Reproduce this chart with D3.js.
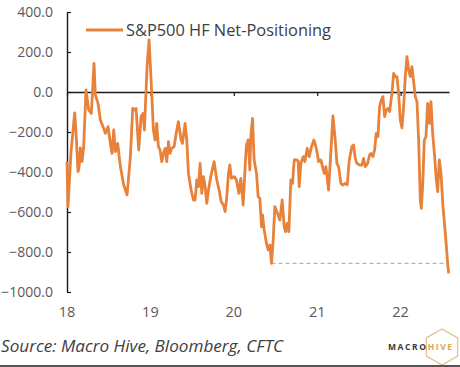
<!DOCTYPE html>
<html><head><meta charset="utf-8">
<script src="https://cdn.jsdelivr.net/npm/d3@7"></script>
<style>html,body{margin:0;padding:0;background:#fff;}svg{display:block;}</style>
</head><body>
<script>
// decimal year (since 2000) of each weekly observation
const dates = [18.000,18.012,18.048,18.092,18.108,18.132,18.144,18.160,18.180,18.200,18.228,18.260,18.292,18.324,18.340,18.372,18.400,18.440,18.460,18.492,18.520,18.540,18.560,18.580,18.608,18.640,18.680,18.720,18.760,18.788,18.812,18.828,18.860,18.888,18.912,18.928,18.960,18.984,
19.016,19.036,19.056,19.076,19.096,19.116,19.136,19.156,19.176,19.196,19.216,19.236,19.256,19.284,19.316,19.336,19.368,19.384,19.416,19.436,19.456,19.488,19.516,19.536,19.556,19.576,19.596,19.616,19.636,19.656,19.676,19.696,19.724,19.764,19.796,19.824,19.848,19.876,19.896,19.916,19.936,19.952,19.972,
20.004,20.032,20.060,20.084,20.112,20.140,20.152,20.172,20.192,20.204,20.224,20.244,20.272,20.292,20.312,20.332,20.344,20.364,20.392,20.412,20.432,20.452,20.472,20.492,20.524,20.552,20.580,20.604,20.620,20.640,20.660,20.684,20.704,20.724,20.752,20.772,20.784,20.804,20.832,20.852,20.880,20.904,20.932,20.960,20.984,
21.004,21.016,21.044,21.068,21.084,21.104,21.136,21.164,21.188,21.216,21.236,21.256,21.284,21.304,21.336,21.360,21.384,21.416,21.436,21.456,21.476,21.508,21.536,21.556,21.576,21.604,21.628,21.644,21.668,21.688,21.708,21.728,21.748,21.768,21.788,21.808,21.828,21.848,21.868,21.896,21.916,21.936,21.956,21.976,21.996,
22.016,22.036,22.056,22.076,22.096,22.116,22.136,22.156,22.176,22.196,22.216,22.236,22.248,22.264,22.284,22.304,22.324,22.344,22.364,22.384,22.408,22.428,22.444,22.464,22.484,22.508,22.536,22.564,22.576];
const netPositioning = [-348,-573,-300,-105,-200,-398,-380,-280,-348,-273,10,-90,-107,143,-15,-57,-140,-182,-207,-173,-257,-307,-190,-298,-257,-373,-465,-515,-323,-82,-90,-82,-290,-123,-107,-190,127,260,
-7,-190,-240,-157,-273,-290,-348,-307,-282,-348,-248,-307,-282,-273,-190,-148,-240,-257,-157,-240,-407,-490,-540,-540,-440,-473,-357,-507,-423,-473,-557,-490,-423,-348,-440,-490,-548,-565,-598,-523,-407,-365,-432,
-423,-440,-507,-432,-565,-340,-265,-240,-390,-223,-132,-340,-407,-523,-532,-673,-615,-690,-757,-790,-765,-857,-740,-573,-607,-640,-540,-673,-698,-657,-698,-440,-457,-340,-340,-345,-473,-357,-323,-348,-282,-323,-273,-240,-273,
-315,-348,-340,-382,-407,-373,-490,-298,-120,-240,-357,-373,-457,-465,-457,-465,-340,-273,-265,-332,-357,-365,-365,-332,-373,-357,-315,-307,-323,-290,-207,-223,-73,-40,-23,-123,-90,-82,-98,-7,93,77,77,-7,-140,
-180,-73,77,177,110,77,127,52,-23,-48,-240,-540,-582,-473,-240,-223,-57,-157,-48,-207,-323,-440,-498,-340,-407,-573,-707,-857,-907];
const yTicks = [400,200,0,-200,-400,-600,-800,-1000];
const xTicks = [18,19,20,21,22];
const xTickLabels = ["18","19","20","21","22"];
const seriesName = "S&P500 HF Net-Positioning";
const sourceText = "Source: Macro Hive, Bloomberg, CFTC";

const W = 460, H = 367;
const svg = d3.select("body").append("svg").attr("width", W).attr("height", H);
const x = d3.scaleLinear().domain([18, 22.58]).range([67, 449]);
const y = d3.scaleLinear().domain([-1000, 400]).range([292, 12]);
const FONT = "'Open Sans', 'Noto Sans', sans-serif";
const orange = "#E8823A";

// y axis
const yAx = svg.append("g").attr("transform", `translate(${x(18)},0)`)
  .call(d3.axisRight(y).tickValues(yTicks).tickSize(4).tickFormat(d => "").tickSizeOuter(0));
yAx.select(".domain").attr("stroke", "#1a1a1a").attr("stroke-width", 1.4);
yAx.selectAll(".tick line").attr("stroke", "#1a1a1a").attr("stroke-width", 1.2);
svg.append("g").selectAll("text").data(yTicks).join("text")
  .attr("x", 53).attr("y", d => y(d)).attr("dy", "0.35em").attr("text-anchor", "end")
  .attr("font-family", FONT).attr("font-size", 14).attr("fill", "#595959")
  .text(d => d3.format(".1f")(d));

// x axis at zero
const xAx = svg.append("g").attr("transform", `translate(0,${y(0)})`)
  .call(d3.axisBottom(x).tickValues(xTicks).tickSize(4).tickFormat(() => "").tickSizeOuter(0));
xAx.select(".domain").attr("stroke", "#1a1a1a").attr("stroke-width", 1.4);
xAx.selectAll(".tick line").attr("stroke", "#1a1a1a").attr("stroke-width", 1.2);
svg.append("g").selectAll("text").data(xTicks).join("text")
  .attr("x", d => x(d)).attr("y", 317).attr("text-anchor", "middle")
  .attr("font-family", FONT).attr("font-size", 14.5).attr("fill", "#595959")
  .text((d, i) => xTickLabels[i]);

// dashed line at min
const data = dates.map((d, i) => ({t: d, v: netPositioning[i]}));
const minPt = data.reduce((a, b) => (b.v < a.v && b.t < 22 ? b : a));
svg.append("line")
  .attr("x1", x(minPt.t)).attr("x2", x(22.58)).attr("y1", y(minPt.v)).attr("y2", y(minPt.v))
  .attr("stroke", "#8ec6cd").attr("stroke-width", 1.2).attr("stroke-dasharray", "4,3");

// series line
svg.append("path").datum(data)
  .attr("d", d3.line().x(d => x(d.t)).y(d => y(d.v)))
  .attr("fill", "none").attr("stroke", orange).attr("stroke-width", 2.8).attr("stroke-linejoin", "round");

// legend
svg.append("line").attr("x1", 86).attr("x2", 123).attr("y1", 30).attr("y2", 30)
  .attr("stroke", orange).attr("stroke-width", 2.8);
svg.append("text").attr("x", 126).attr("y", 35.5).attr("font-family", FONT).attr("font-size", 15.5)
  .attr("fill", "#404040").attr("textLength", 205).attr("lengthAdjust", "spacingAndGlyphs").text(seriesName);

// source
svg.append("text").attr("x", 1).attr("y", 352).attr("font-family", FONT).attr("font-size", 16)
  .attr("font-style", "italic").attr("fill", "#404040")
  .attr("textLength", 282).attr("lengthAdjust", "spacingAndGlyphs").text(sourceText);

// logo
const hx = 442, hy = 347, hr = 18;
const hex = d3.range(6).map(i => {
  const a = Math.PI / 3 * i - Math.PI / 2;
  return [hx + hr * Math.cos(a), hy + hr * Math.sin(a)];
});
svg.append("path").attr("d", "M" + hex.join("L") + "Z").attr("fill", "none")
  .attr("stroke", "#e3c08c").attr("stroke-width", 1.3);
svg.append("text").attr("x", 388).attr("y", 350).attr("font-family", FONT).attr("font-size", 8.5)
  .attr("font-weight", 700).attr("letter-spacing", 1.6).attr("fill", "#3a3a3a").text("MACRO")
  .append("tspan").attr("fill", "#d9a65a").text("HIVE");

// bottom rule
svg.append("line").attr("x1", 0).attr("x2", W).attr("y1", 366).attr("y2", 366)
  .attr("stroke", "#555").attr("stroke-width", 2);
</script>
</body></html>
